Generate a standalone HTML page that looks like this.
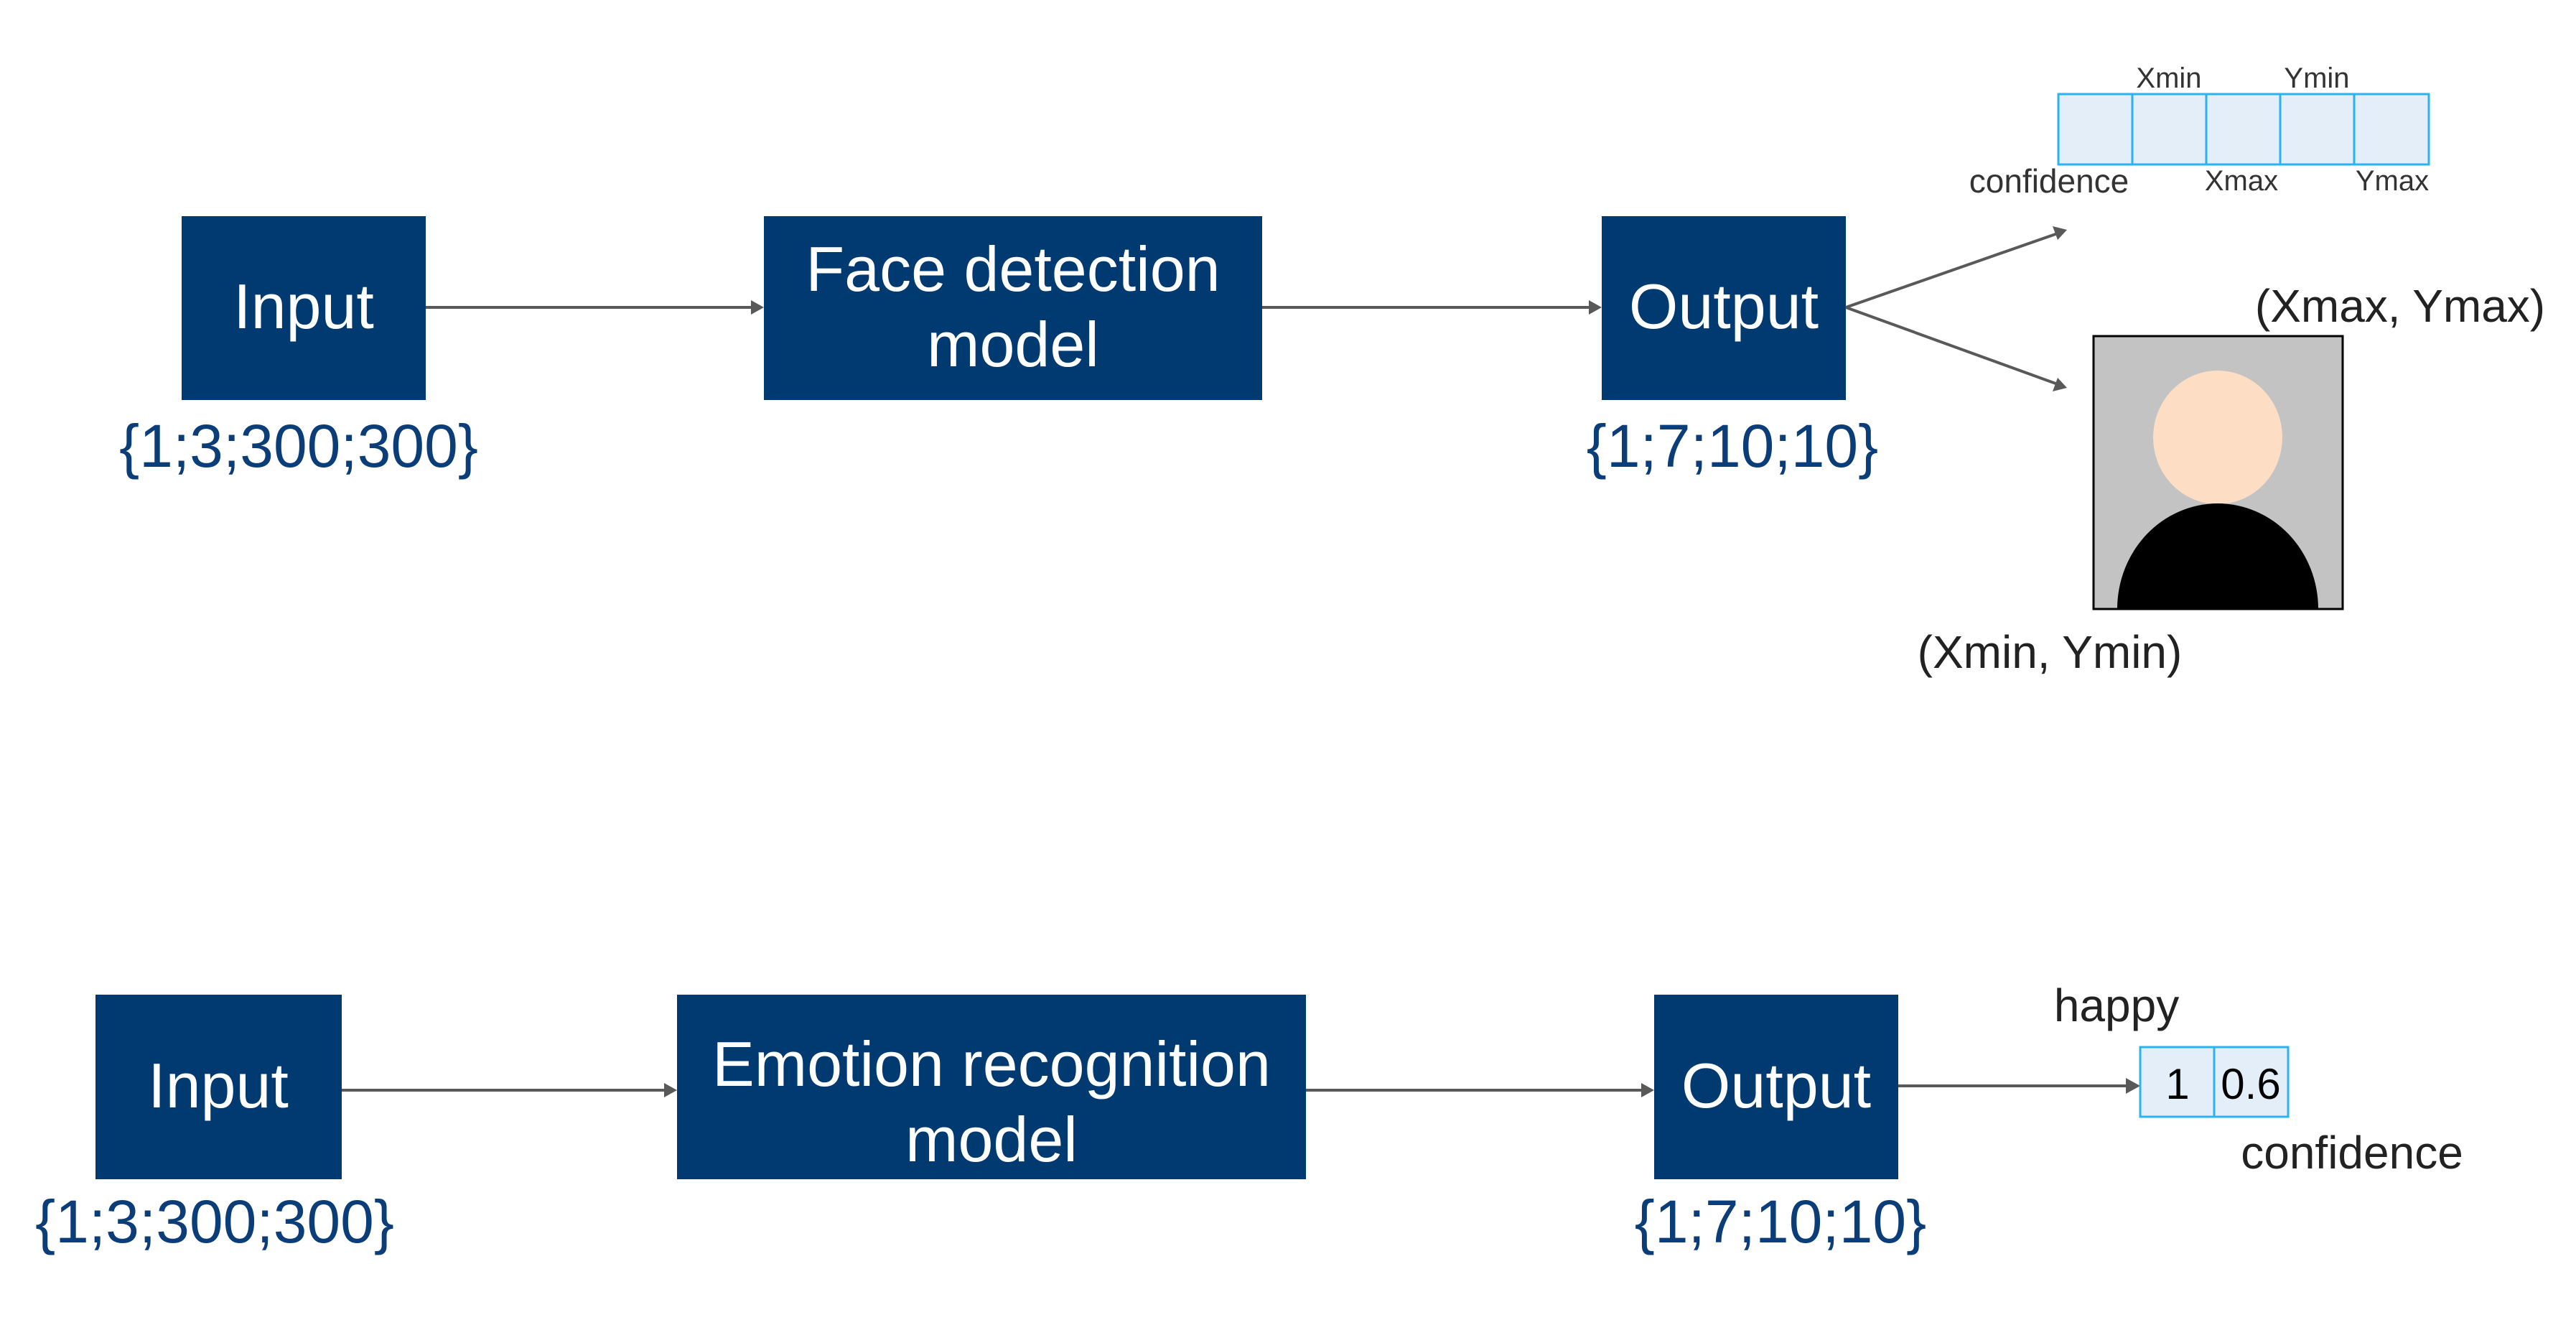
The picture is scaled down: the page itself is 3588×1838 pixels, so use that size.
<!DOCTYPE html>
<html><head><meta charset="utf-8"><style>
html,body{margin:0;padding:0;background:#fff;}
svg{display:block;}
text{font-family:"Liberation Sans",sans-serif;}
</style></head><body>
<svg width="3588" height="1838" viewBox="0 0 3588 1838" xmlns="http://www.w3.org/2000/svg">
<g fill="#013a70">
<rect x="253" y="301" width="340" height="256"/>
<rect x="1064" y="301" width="694" height="256"/>
<rect x="2231" y="301" width="340" height="256"/>
<rect x="133" y="1385" width="343" height="257"/>
<rect x="943" y="1385" width="876" height="257"/>
<rect x="2304" y="1385" width="340" height="257"/>
</g>
<g fill="#fff" font-size="88" text-anchor="middle">
<text x="423" y="457">Input</text>
<text x="1411" y="405">Face detection</text>
<text x="1411" y="510">model</text>
<text x="2401" y="457">Output</text>
<text x="304" y="1542">Input</text>
<text x="1381" y="1512">Emotion recognition</text>
<text x="1381" y="1617">model</text>
<text x="2474" y="1542">Output</text>
</g>
<g fill="#0b3d78" font-size="84" text-anchor="middle">
<text x="416" y="650">{1;3;300;300}</text>
<text x="2413" y="650">{1;7;10;10}</text>
<text x="299" y="1730">{1;3;300;300}</text>
<text x="2480" y="1730">{1;7;10;10}</text>
</g>
<g stroke="#595959" stroke-width="4" fill="none">
<line x1="593" y1="428" x2="1050" y2="428"/>
<line x1="1758" y1="428" x2="2217" y2="428"/>
<line x1="476" y1="1518" x2="929" y2="1518"/>
<line x1="1819" y1="1518" x2="2290" y2="1518"/>
<line x1="2644" y1="1512" x2="2966" y2="1512"/>
<line x1="2571" y1="428" x2="2866" y2="325"/>
<line x1="2571" y1="428" x2="2866" y2="535"/>
</g>
<g fill="#595959">
<polygon points="1064,428 1046,418 1046,438"/>
<polygon points="2231,428 2213,418 2213,438"/>
<polygon points="943,1518 925,1508 925,1528"/>
<polygon points="2304,1518 2286,1508 2286,1528"/>
<polygon points="2981,1512 2961,1501 2961,1523"/>
<polygon points="2879,320 2859,315 2866,334"/>
<polygon points="2879,540 2866,526 2859,545"/>
</g>
<g fill="#e4eef8" stroke="#2ab3f0" stroke-width="3">
<rect x="2867" y="131" width="103" height="98"/>
<rect x="2970" y="131" width="103" height="98"/>
<rect x="3073" y="131" width="103" height="98"/>
<rect x="3176" y="131" width="103" height="98"/>
<rect x="3279" y="131" width="104" height="98"/>
<rect x="2981" y="1458" width="103" height="97"/>
<rect x="3084" y="1458" width="103" height="97"/>
</g>
<g fill="#333" font-size="40" text-anchor="middle">
<text x="3021" y="122">Xmin</text>
<text x="3227" y="122">Ymin</text>
<text x="3122" y="265">Xmax</text>
<text x="3332" y="265">Ymax</text>
</g>
<text x="2854" y="268" font-size="46" fill="#333" text-anchor="middle">confidence</text>
<rect x="2916" y="468" width="347" height="380" fill="#c3c3c3" stroke="#000" stroke-width="3"/>
<ellipse cx="3089" cy="609" rx="90" ry="93" fill="#fddec4"/>
<path d="M2949,848 A140,147 0 0 1 3229,848 Z" fill="#000"/>
<g fill="#222" font-size="64" text-anchor="middle">
<text x="3343" y="448">(Xmax, Ymax)</text>
<text x="2855" y="930">(Xmin, Ymin)</text>
<text x="2948" y="1422">happy</text>
<text x="3276" y="1627">confidence</text>
</g>
<g fill="#000" font-size="60" text-anchor="middle">
<text x="3033" y="1530">1</text>
<text x="3135" y="1530">0.6</text>
</g>
</svg>
</body></html>
